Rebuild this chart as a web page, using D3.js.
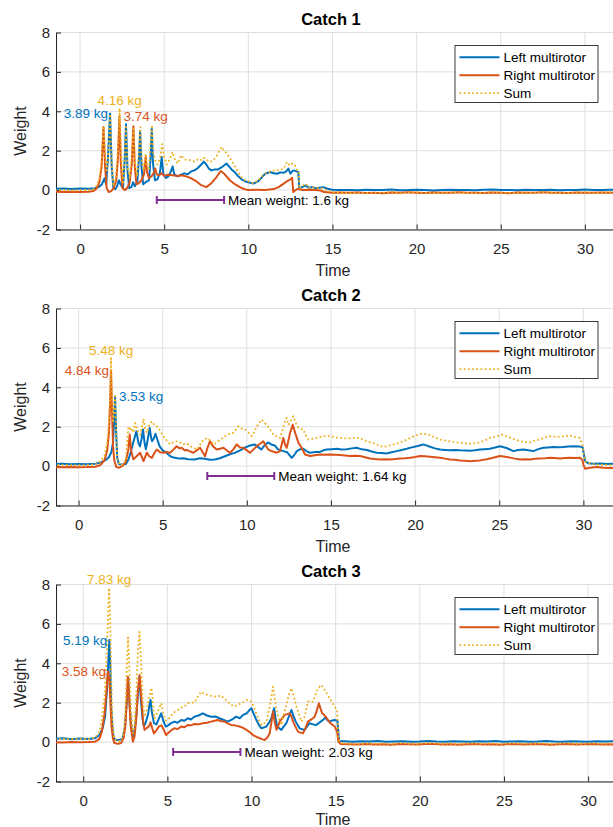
<!DOCTYPE html>
<html>
<head>
<meta charset="utf-8">
<script src="https://cdn.jsdelivr.net/npm/d3@7"></script>
<style>
    body { margin: 0; background: #fff; }
    svg { display: block; font-family: "Liberation Sans", Arial, sans-serif; }
</style>
</head>
<body>
<script>
// measured load per multirotor, [time, weight]
const catch1Left = [[-1.5,0.07],[-1,0.08],[-0.5,0.06],[0,0.08],[0.5,0.07],[0.9,0.1],[1.1,0.15],[1.3,0.3],[1.45,0.6],[1.55,0.3],[1.65,1.5],[1.78,3.89],[1.88,1.2],[1.98,0.1],[2.1,0.05],[2.2,0.2],[2.3,0.5],[2.4,0.3],[2.55,0.1],[2.65,1.5],[2.73,3.34],[2.82,1.0],[2.92,0.1],[3.05,0.15],[3.15,0.4],[3.25,0.2],[3.4,0.4],[3.5,1.6],[3.57,3.0],[3.65,1.2],[3.75,0.3],[3.9,0.4],[4.0,0.45],[4.1,0.5],[4.2,1.8],[4.26,3.12],[4.33,1.4],[4.45,0.5],[4.6,0.55],[4.75,0.9],[4.85,1.68],[4.95,0.8],[5.1,0.62],[5.25,0.7],[5.4,0.95],[5.5,1.2],[5.6,0.8],[5.8,0.7],[6.0,0.78],[6.2,0.85],[6.4,0.8],[6.6,0.95],[6.8,1.0],[7.0,1.12],[7.2,1.3],[7.35,1.45],[7.5,1.3],[7.65,1.1],[7.8,1.0],[8.0,1.05],[8.2,1.05],[8.4,1.15],[8.55,1.25],[8.7,1.35],[8.85,1.2],[9.0,1.05],[9.2,0.9],[9.4,0.7],[9.6,0.55],[9.8,0.45],[10.0,0.4],[10.3,0.33],[10.6,0.46],[10.8,0.65],[11.0,0.83],[11.3,0.92],[11.5,0.85],[11.7,0.83],[11.9,0.9],[12.1,0.88],[12.25,0.95],[12.38,1.09],[12.5,0.83],[12.6,0.95],[12.7,1.0],[12.85,0.95],[12.97,0.92],[13.03,0.07],[13.2,0.15],[13.4,0.24],[13.6,0.12],[13.8,0.15],[14.0,0.1],[14.2,0.12],[14.46,0.15],[14.7,0.07],[15.0,0.02],[15.3,0.0],[15.8,0.01],[16.0,0.01],[16.5,-0.01],[17.0,0.02],[17.5,0.0],[18.0,0.01],[18.5,0.03],[19.0,-0.01],[19.5,0.0],[20.0,0.02],[20.5,0.01],[21.0,-0.02],[21.5,0.01],[22.0,0.02],[22.5,0.0],[23.0,0.01],[23.5,-0.01],[24.0,0.02],[24.5,0.03],[25.0,0.0],[25.5,0.01],[26.0,-0.01],[26.5,0.02],[27.0,0.0],[27.5,0.01],[28.0,0.02],[28.5,-0.01],[29.0,0.01],[29.5,0.0],[30.0,0.03],[30.5,0.01],[31.0,0.0],[31.5,0.02],[31.8,0.01]];
const catch1Right = [[-1.5,-0.08],[-1,-0.1],[-0.5,-0.09],[0,-0.1],[0.5,-0.08],[0.8,-0.05],[1.0,0.1],[1.15,0.4],[1.28,1.2],[1.39,3.2],[1.48,1.3],[1.58,0.1],[1.7,-0.1],[1.85,-0.05],[2.0,0.1],[2.15,0.5],[2.25,1.6],[2.34,3.74],[2.42,1.4],[2.52,0.1],[2.65,0.0],[2.8,0.1],[2.95,0.4],[3.07,1.3],[3.17,3.24],[3.25,1.2],[3.35,0.3],[3.5,0.35],[3.65,0.5],[3.8,0.8],[3.9,1.68],[3.98,0.9],[4.1,0.6],[4.25,0.7],[4.4,0.9],[4.47,1.1],[4.55,0.8],[4.7,0.75],[4.85,0.85],[5.0,0.72],[5.2,0.78],[5.5,0.75],[5.8,0.72],[6.0,0.75],[6.3,0.7],[6.6,0.6],[6.9,0.45],[7.2,0.25],[7.5,0.15],[7.8,0.35],[8.1,0.65],[8.36,0.97],[8.6,0.8],[8.9,0.5],[9.2,0.3],[9.5,0.15],[9.7,0.07],[10.0,0.0],[10.5,0.02],[11.0,0.0],[11.5,0.05],[11.8,0.15],[12.1,0.33],[12.3,0.45],[12.48,0.53],[12.6,0.63],[12.67,-0.1],[12.8,0.0],[12.97,0.07],[13.2,0.0],[13.5,0.02],[14.0,0.0],[14.3,-0.02],[14.5,-0.1],[15.0,-0.13],[15.5,-0.12],[16.0,-0.14],[16.5,-0.12],[17.0,-0.15],[17.5,-0.13],[18.0,-0.16],[18.5,-0.12],[19.0,-0.14],[19.5,-0.11],[20.0,-0.13],[20.5,-0.15],[21.0,-0.12],[21.5,-0.14],[22.0,-0.13],[22.5,-0.11],[23.0,-0.14],[23.5,-0.13],[24.0,-0.15],[24.5,-0.12],[25.0,-0.13],[25.5,-0.16],[26.0,-0.12],[26.5,-0.14],[27.0,-0.13],[27.5,-0.11],[28.0,-0.14],[28.5,-0.13],[29.0,-0.15],[29.5,-0.12],[30.0,-0.13],[30.5,-0.14],[31.0,-0.12],[31.5,-0.13],[31.8,-0.14]];
const catch1Sum = [[-1.5,0.0],[-1,0.01],[-0.5,-0.02],[0,0.0],[0.5,0.01],[0.8,0.05],[1.0,0.25],[1.15,0.6],[1.28,1.5],[1.4,3.25],[1.5,1.6],[1.6,1.0],[1.7,2.2],[1.79,3.85],[1.88,1.3],[1.98,0.2],[2.12,0.6],[2.25,2.0],[2.35,4.16],[2.44,1.8],[2.55,0.3],[2.65,1.6],[2.73,3.3],[2.82,1.2],[2.95,0.6],[3.07,1.6],[3.17,3.2],[3.26,1.4],[3.38,0.7],[3.5,1.9],[3.58,3.2],[3.66,1.6],[3.78,1.0],[3.9,1.85],[3.98,1.2],[4.1,1.1],[4.2,2.4],[4.27,3.3],[4.35,1.9],[4.47,1.5],[4.6,1.3],[4.75,1.6],[4.88,2.33],[5.0,1.7],[5.15,1.3],[5.35,1.6],[5.5,1.93],[5.65,1.5],[5.8,1.35],[6.0,1.77],[6.2,1.55],[6.4,1.55],[6.6,1.5],[6.8,1.45],[7.0,1.55],[7.15,1.5],[7.35,1.65],[7.5,1.55],[7.7,1.42],[7.9,1.5],[8.1,1.7],[8.25,1.95],[8.4,2.19],[8.55,2.0],[8.7,1.9],[8.85,1.7],[9.0,1.5],[9.2,1.2],[9.4,0.9],[9.6,0.65],[9.8,0.5],[10.0,0.45],[10.3,0.35],[10.6,0.5],[10.8,0.7],[11.0,0.83],[11.3,0.95],[11.6,1.0],[11.9,1.02],[12.1,1.1],[12.3,1.43],[12.45,1.25],[12.6,1.34],[12.75,1.3],[12.9,1.0],[12.99,0.95],[13.04,0.07],[13.2,0.2],[13.4,0.33],[13.6,0.12],[13.8,0.15],[14.0,0.1],[14.3,0.1],[14.5,0.05],[14.8,-0.05],[15.1,-0.12],[15.5,-0.14],[16.0,-0.16],[16.5,-0.13],[17.0,-0.15],[17.5,-0.14],[18.0,-0.13],[18.5,-0.09],[19.0,-0.16],[19.5,-0.12],[20.0,-0.11],[20.5,-0.14],[21.0,-0.15],[21.5,-0.13],[22.0,-0.11],[22.5,-0.12],[23.0,-0.14],[23.5,-0.15],[24.0,-0.13],[24.5,-0.1],[25.0,-0.13],[25.5,-0.15],[26.0,-0.13],[26.5,-0.12],[27.0,-0.13],[27.5,-0.1],[28.0,-0.12],[28.5,-0.14],[29.0,-0.14],[29.5,-0.12],[30.0,-0.1],[30.5,-0.13],[31.0,-0.12],[31.5,-0.11],[31.8,-0.13]];

const catch2Left = [[-1.5,0.1],[-1,0.12],[-0.5,0.09],[0,0.11],[0.5,0.1],[1.0,0.12],[1.3,0.18],[1.6,0.3],[1.8,0.45],[1.95,0.7],[2.05,1.2],[2.12,2.5],[2.17,3.53],[2.23,1.8],[2.3,0.4],[2.4,0.1],[2.6,0.08],[2.8,0.1],[2.95,0.3],[3.1,0.7],[3.25,1.2],[3.44,1.77],[3.55,1.2],[3.65,1.0],[3.75,1.4],[3.83,1.86],[3.92,1.2],[4.0,0.85],[4.1,1.3],[4.23,1.94],[4.3,1.5],[4.37,1.26],[4.47,1.4],[4.57,1.64],[4.7,1.3],[4.82,1.0],[5.0,0.8],[5.22,0.68],[5.45,0.5],[5.71,0.42],[6.0,0.38],[6.25,0.4],[6.5,0.35],[6.9,0.34],[7.2,0.4],[7.5,0.37],[7.8,0.32],[8.09,0.34],[8.4,0.4],[8.7,0.5],[9.0,0.6],[9.28,0.67],[9.6,0.8],[9.87,0.93],[10.2,1.05],[10.46,1.1],[10.7,0.95],[10.86,0.84],[11.05,1.05],[11.26,1.2],[11.45,1.1],[11.66,1.05],[11.85,0.85],[12.17,0.76],[12.4,0.7],[12.67,0.42],[12.85,0.6],[12.97,0.76],[13.16,0.85],[13.36,0.88],[13.56,0.75],[13.76,0.68],[14.05,0.72],[14.35,0.72],[14.55,0.8],[14.75,0.84],[15.05,0.86],[15.34,0.88],[15.64,0.84],[15.94,0.86],[16.23,0.9],[16.53,0.93],[16.83,0.85],[17.13,0.82],[17.42,0.74],[17.72,0.68],[18.02,0.66],[18.31,0.64],[18.61,0.7],[18.9,0.76],[19.2,0.82],[19.5,0.88],[19.8,0.95],[20.1,1.01],[20.49,1.1],[20.89,0.98],[21.18,0.9],[21.48,0.84],[21.78,0.82],[22.07,0.8],[22.37,0.82],[22.67,0.8],[22.96,0.79],[23.26,0.78],[23.56,0.8],[23.86,0.84],[24.15,0.86],[24.45,0.88],[24.75,0.94],[25.04,1.01],[25.44,0.92],[25.84,0.76],[26.13,0.82],[26.43,0.84],[26.73,0.8],[27.03,0.76],[27.32,0.86],[27.62,0.93],[27.92,0.95],[28.21,0.97],[28.51,0.96],[28.81,0.97],[29.1,0.99],[29.4,1.01],[29.8,0.99],[29.96,0.95],[30.05,0.5],[30.1,0.25],[30.3,0.14],[30.6,0.12],[31.0,0.13],[31.4,0.11],[31.8,0.12]];
const catch2Right = [[-1.5,-0.05],[-1,-0.06],[-0.5,-0.04],[0,-0.06],[0.5,-0.05],[1.0,-0.03],[1.3,0.05],[1.55,0.3],[1.7,0.8],[1.8,1.6],[1.87,3.0],[1.93,4.84],[1.99,2.8],[2.05,1.0],[2.12,0.3],[2.25,-0.05],[2.4,-0.08],[2.6,0.0],[2.8,0.2],[2.95,0.8],[3.04,1.6],[3.12,0.8],[3.26,0.34],[3.45,0.5],[3.66,0.68],[3.86,0.25],[4.06,0.68],[4.2,0.5],[4.36,0.42],[4.5,0.65],[4.65,0.84],[4.85,0.7],[5.04,0.68],[5.25,0.72],[5.44,0.68],[5.65,0.85],[5.83,1.01],[6.0,0.9],[6.13,0.93],[6.3,0.8],[6.43,0.82],[6.62,0.75],[6.82,0.68],[7.02,0.8],[7.22,0.93],[7.38,0.7],[7.52,0.5],[7.65,0.9],[7.81,1.26],[8.0,1.0],[8.21,0.84],[8.4,0.88],[8.61,0.93],[8.8,0.8],[9.0,0.68],[9.2,0.85],[9.4,1.1],[9.6,0.95],[9.8,0.93],[10.0,0.8],[10.19,0.68],[10.4,0.85],[10.59,1.01],[10.8,1.15],[10.98,1.26],[11.15,1.0],[11.28,0.84],[11.5,0.75],[11.78,0.68],[11.97,0.76],[12.17,1.43],[12.27,1.1],[12.37,0.93],[12.5,1.4],[12.57,1.69],[12.73,2.1],[12.87,1.69],[13.07,1.18],[13.26,0.93],[13.46,0.59],[13.76,0.51],[14.05,0.55],[14.35,0.59],[14.65,0.57],[14.94,0.59],[15.24,0.58],[15.54,0.56],[15.83,0.54],[16.13,0.51],[16.43,0.52],[16.73,0.51],[17.02,0.45],[17.32,0.39],[17.62,0.36],[17.91,0.34],[18.21,0.35],[18.51,0.34],[18.8,0.36],[19.1,0.39],[19.4,0.4],[19.7,0.42],[20.0,0.46],[20.29,0.51],[20.59,0.5],[20.89,0.48],[21.18,0.45],[21.48,0.42],[21.78,0.38],[22.07,0.34],[22.37,0.32],[22.67,0.29],[22.96,0.27],[23.26,0.25],[23.56,0.27],[23.86,0.29],[24.15,0.33],[24.45,0.39],[24.75,0.45],[25.04,0.51],[25.34,0.47],[25.64,0.43],[25.94,0.38],[26.24,0.34],[26.53,0.35],[26.83,0.34],[27.13,0.37],[27.42,0.39],[27.72,0.4],[28.02,0.42],[28.31,0.41],[28.61,0.39],[28.9,0.41],[29.2,0.42],[29.5,0.41],[29.8,0.42],[29.95,0.3],[30.0,0.08],[30.1,-0.13],[30.4,-0.08],[30.8,-0.05],[31.2,-0.08],[31.6,-0.1],[31.8,-0.09]];
const catch2Sum = [[-1.5,0.05],[-1,0.06],[-0.5,0.05],[0,0.05],[0.5,0.05],[1.0,0.09],[1.3,0.23],[1.55,0.55],[1.7,1.2],[1.8,2.1],[1.87,3.6],[1.93,5.48],[1.99,3.5],[2.05,2.2],[2.12,2.8],[2.17,3.55],[2.23,1.9],[2.3,0.4],[2.45,0.05],[2.6,0.08],[2.8,0.3],[2.96,2.02],[3.06,1.8],[3.16,1.94],[3.26,1.7],[3.36,2.19],[3.5,1.8],[3.66,1.6],[3.76,2.0],[3.86,2.4],[3.96,1.9],[4.06,1.69],[4.2,2.1],[4.36,2.27],[4.5,2.1],[4.65,2.02],[4.85,1.8],[5.04,1.52],[5.24,1.3],[5.44,1.1],[5.63,1.2],[5.83,1.26],[6.03,1.2],[6.23,1.1],[6.43,1.15],[6.63,1.01],[6.82,0.95],[7.02,0.84],[7.17,1.0],[7.32,1.26],[7.47,1.3],[7.62,1.43],[7.82,1.3],[8.02,1.1],[8.22,1.2],[8.42,1.35],[8.62,1.45],[8.81,1.6],[9.01,1.65],[9.21,1.69],[9.35,1.85],[9.5,2.02],[9.7,1.9],[9.9,1.85],[10.1,1.7],[10.3,1.52],[10.45,1.75],[10.59,2.02],[10.75,2.2],[10.89,2.36],[11.04,2.2],[11.18,2.1],[11.38,1.85],[11.58,1.6],[11.78,1.5],[11.98,1.43],[12.17,2.0],[12.27,2.28],[12.37,2.45],[12.47,2.1],[12.57,2.2],[12.67,2.4],[12.77,2.53],[12.9,2.2],[13.06,1.95],[13.21,1.88],[13.36,1.85],[13.51,1.55],[13.66,1.35],[13.86,1.38],[14.15,1.43],[14.45,1.5],[14.75,1.55],[15.05,1.5],[15.34,1.45],[15.64,1.42],[15.94,1.4],[16.23,1.42],[16.53,1.44],[16.83,1.38],[17.13,1.26],[17.42,1.18],[17.72,1.1],[17.92,1.02],[18.12,0.97],[18.42,1.03],[18.71,1.1],[19.01,1.18],[19.31,1.26],[19.6,1.38],[19.9,1.51],[20.15,1.58],[20.39,1.64],[20.64,1.62],[20.89,1.57],[21.18,1.45],[21.48,1.35],[21.78,1.3],[22.07,1.26],[22.37,1.22],[22.67,1.18],[22.96,1.16],[23.26,1.14],[23.56,1.16],[23.86,1.2],[24.15,1.3],[24.45,1.43],[24.8,1.5],[25.14,1.6],[25.39,1.52],[25.64,1.45],[25.94,1.35],[26.24,1.26],[26.53,1.22],[26.83,1.2],[27.13,1.3],[27.42,1.35],[27.72,1.45],[28.02,1.52],[28.31,1.5],[28.61,1.48],[28.9,1.52],[29.2,1.55],[29.5,1.48],[29.8,1.42],[29.96,1.0],[30.05,0.5],[30.1,0.25],[30.4,0.13],[30.8,0.08],[31.2,0.06],[31.8,0.05]];

const catch3Left = [[-1.7,0.17],[-1.2,0.19],[-0.7,0.15],[-0.2,0.18],[0.3,0.16],[0.7,0.2],[0.95,0.35],[1.15,0.7],[1.3,1.3],[1.42,2.8],[1.5,4.3],[1.55,5.19],[1.6,4.0],[1.66,1.8],[1.75,0.5],[1.85,0.15],[2.0,0.1],[2.2,0.12],[2.35,0.2],[2.48,0.8],[2.58,2.0],[2.67,3.27],[2.75,2.0],[2.85,0.8],[2.95,0.3],[3.05,0.6],[3.15,1.3],[3.25,2.5],[3.33,3.3],[3.42,2.2],[3.52,1.2],[3.6,0.8],[3.7,0.96],[3.85,1.4],[3.95,2.0],[4.0,2.14],[4.08,1.5],[4.2,0.96],[4.35,0.9],[4.5,1.2],[4.63,1.46],[4.75,1.1],[4.9,0.79],[5.05,0.85],[5.2,0.95],[5.42,1.04],[5.6,0.98],[5.82,1.12],[6.0,1.08],[6.21,1.21],[6.4,1.15],[6.6,1.29],[6.85,1.35],[7.1,1.46],[7.35,1.35],[7.6,1.29],[7.85,1.3],[8.09,1.21],[8.35,1.12],[8.58,1.04],[8.85,1.15],[9.08,1.29],[9.3,1.21],[9.5,1.38],[9.7,1.45],[9.85,1.6],[9.99,1.72],[10.15,1.4],[10.29,1.12],[10.45,0.85],[10.59,0.7],[10.75,0.75],[10.88,0.79],[11.05,1.0],[11.18,1.21],[11.34,1.72],[11.43,1.2],[11.52,0.79],[11.65,0.7],[11.77,0.62],[11.92,0.8],[12.07,0.96],[12.22,1.3],[12.37,1.63],[12.5,1.3],[12.63,1.04],[12.75,0.85],[12.86,0.7],[13.0,0.65],[13.16,0.62],[13.3,0.8],[13.45,0.96],[13.65,0.9],[13.85,0.87],[14.05,1.0],[14.24,1.12],[14.4,1.25],[14.52,1.1],[14.64,1.04],[14.8,1.1],[14.94,1.12],[15.1,1.08],[15.15,0.6],[15.2,0.05],[15.5,0.04],[16.0,0.02],[16.5,0.04],[17.0,0.03],[17.5,0.05],[18.0,0.02],[18.5,0.03],[19.0,0.04],[19.5,0.02],[20.0,0.03],[20.5,0.05],[21.0,0.03],[21.5,0.02],[22.0,0.04],[22.5,0.03],[23.0,0.02],[23.5,0.04],[24.0,0.03],[24.5,0.05],[25.0,0.02],[25.5,0.03],[26.0,0.04],[26.5,0.02],[27.0,0.03],[27.5,0.05],[28.0,0.03],[28.5,0.02],[29.0,0.04],[29.5,0.03],[30.0,0.02],[30.5,0.04],[31.0,0.03],[31.5,0.05]];
const catch3Right = [[-1.7,0.0],[-1.2,-0.02],[-0.7,0.01],[-0.2,-0.01],[0.3,0.0],[0.7,0.02],[0.95,0.15],[1.1,0.5],[1.27,1.46],[1.38,2.6],[1.47,3.58],[1.55,3.2],[1.62,1.9],[1.68,0.8],[1.76,0.2],[1.85,-0.05],[2.06,-0.09],[2.25,-0.05],[2.4,0.2],[2.5,0.8],[2.58,2.0],[2.65,3.32],[2.72,2.4],[2.82,0.8],[2.95,0.02],[3.05,0.3],[3.15,1.2],[3.25,2.6],[3.35,3.4],[3.45,2.3],[3.55,1.1],[3.64,0.62],[3.75,0.7],[3.9,0.8],[4.0,1.0],[4.1,0.7],[4.2,0.44],[4.35,0.6],[4.5,0.8],[4.65,0.85],[4.8,0.6],[4.92,0.36],[5.1,0.5],[5.25,0.62],[5.42,0.7],[5.6,0.66],[5.82,0.79],[6.0,0.75],[6.21,0.87],[6.4,0.85],[6.6,0.92],[6.85,0.9],[7.1,0.96],[7.35,0.98],[7.6,1.04],[7.8,1.08],[8.0,1.12],[8.2,1.06],[8.38,1.05],[8.58,0.95],[8.78,0.87],[9.0,0.85],[9.28,0.79],[9.5,0.72],[9.7,0.62],[9.9,0.5],[10.09,0.36],[10.3,0.26],[10.49,0.2],[10.65,0.14],[10.78,0.11],[10.95,0.25],[11.08,0.45],[11.18,1.0],[11.28,1.55],[11.38,1.0],[11.48,0.62],[11.58,0.8],[11.67,1.04],[11.82,1.2],[11.97,1.38],[12.12,1.42],[12.27,1.46],[12.37,1.3],[12.47,1.04],[12.6,0.8],[12.76,0.53],[12.9,0.48],[13.06,0.45],[13.2,0.7],[13.35,1.04],[13.55,1.15],[13.75,1.29],[13.88,1.6],[14.0,1.97],[14.1,1.7],[14.2,1.46],[14.3,1.4],[14.4,1.29],[14.52,1.15],[14.64,1.0],[14.8,0.88],[14.94,0.79],[15.05,0.6],[15.1,0.45],[15.16,0.03],[15.3,-0.1],[15.8,-0.11],[16.3,-0.12],[16.8,-0.1],[17.3,-0.12],[17.8,-0.11],[18.3,-0.13],[18.8,-0.1],[19.3,-0.11],[19.8,-0.12],[20.3,-0.1],[20.8,-0.09],[21.3,-0.12],[21.8,-0.11],[22.3,-0.13],[22.8,-0.11],[23.3,-0.1],[23.8,-0.12],[24.3,-0.11],[24.8,-0.13],[25.3,-0.1],[25.8,-0.11],[26.3,-0.12],[26.8,-0.1],[27.3,-0.11],[27.8,-0.13],[28.3,-0.11],[28.8,-0.1],[29.3,-0.12],[29.8,-0.11],[30.3,-0.1],[30.8,-0.12],[31.3,-0.11],[31.6,-0.12]];
const catch3Sum = [[-1.7,0.17],[-1.2,0.16],[-0.7,0.15],[-0.2,0.18],[0.3,0.15],[0.7,0.22],[0.95,0.5],[1.12,1.2],[1.27,2.4],[1.38,4.2],[1.47,6.4],[1.54,7.83],[1.6,6.2],[1.66,3.3],[1.74,1.0],[1.85,0.15],[2.06,0.02],[2.25,0.08],[2.4,0.4],[2.5,1.5],[2.58,3.6],[2.66,5.3],[2.74,3.8],[2.84,1.5],[2.95,0.45],[3.05,0.9],[3.15,2.5],[3.25,4.6],[3.34,5.6],[3.43,4.2],[3.53,2.2],[3.64,1.29],[3.75,1.5],[3.9,2.2],[4.05,2.76],[4.15,1.9],[4.22,1.21],[4.35,1.4],[4.5,1.7],[4.63,1.97],[4.75,1.5],[4.9,1.1],[5.03,1.12],[5.18,1.3],[5.32,1.46],[5.47,1.55],[5.62,1.63],[5.77,1.72],[5.92,1.8],[6.06,1.85],[6.21,1.97],[6.4,2.0],[6.6,2.0],[6.8,2.3],[7.0,2.56],[7.2,2.45],[7.4,2.39],[7.6,2.35],[7.8,2.31],[8.0,2.33],[8.19,2.36],[8.4,2.2],[8.58,2.05],[8.78,1.9],[8.98,1.8],[9.18,1.9],[9.38,1.97],[9.55,2.05],[9.7,2.14],[9.85,2.1],[9.99,2.05],[10.15,1.75],[10.29,1.46],[10.45,1.1],[10.59,0.87],[10.75,0.95],[10.88,1.04],[11.0,1.5],[11.12,1.97],[11.28,2.81],[11.38,2.2],[11.48,1.63],[11.62,1.2],[11.77,0.87],[11.92,1.4],[12.07,1.88],[12.22,2.4],[12.37,2.73],[12.52,2.3],[12.67,1.8],[12.82,1.4],[12.96,1.04],[13.16,1.29],[13.35,2.05],[13.5,2.1],[13.65,2.05],[13.8,2.4],[13.95,2.73],[14.15,2.9],[14.28,2.75],[14.4,2.56],[14.52,2.4],[14.64,2.22],[14.8,2.0],[14.94,1.8],[15.08,1.63],[15.16,0.2],[15.3,-0.05],[15.8,-0.07],[16.3,-0.09],[16.8,-0.06],[17.3,-0.08],[17.8,-0.07],[18.3,-0.09],[18.8,-0.05],[19.3,-0.07],[19.8,-0.08],[20.3,-0.06],[20.8,-0.05],[21.3,-0.08],[21.8,-0.07],[22.3,-0.09],[22.8,-0.06],[23.3,-0.07],[23.8,-0.08],[24.3,-0.06],[24.8,-0.09],[25.3,-0.07],[25.8,-0.06],[26.3,-0.08],[26.8,-0.07],[27.3,-0.06],[27.8,-0.09],[28.3,-0.07],[28.8,-0.06],[29.3,-0.08],[29.8,-0.07],[30.3,-0.06],[30.8,-0.08],[31.3,-0.07],[31.6,-0.08]];

const catchTitles = ["Catch 1", "Catch 2", "Catch 3"];
const seriesNames = ["Left multirotor", "Right multirotor", "Sum"];
const xLimits = [[-1.43, 31.67], [-1.34, 31.76], [-1.62, 31.48]];
const yLimits = [-2, 8];
const xTicks = [0, 5, 10, 15, 20, 25, 30];
const yTicks = [-2, 0, 2, 4, 6, 8];

// holding interval used for the mean weight, [start, end] in seconds
const meanIntervals = [[4.56, 8.56], [7.65, 11.63], [5.34, 9.34]];
const meanWeights = [1.6, 1.64, 2.03];
const meanBarLevel = -0.5;

// how each peak label sits against its peak (left, right, sum)
const peakAnchors = [["end", "start", "middle"], ["start", "end", "middle"], ["end", "end", "middle"]];

(function () {
    const colors = ["#0072BD", "#D95319", "#EDB120"];
    const purple = "#7E2F8E";
    const axisColor = "#262626";

    const width = 613, height = 827;
    const left = 56, right = 613;
    const panelTop = 32.5, panelHeight = 197, panelStep = 276;

    const svg = d3.select("body").append("svg")
        .attr("width", width)
        .attr("height", height);

    const catches = [
        [catch1Left, catch1Right, catch1Sum],
        [catch2Left, catch2Right, catch2Sum],
        [catch3Left, catch3Right, catch3Sum]
    ];

    catches.forEach(function (series, i) {
        drawPanel(series, i);
    });

    function drawPanel(series, i) {
        const top = panelTop + i * panelStep;
        const bottom = top + panelHeight;

        const x = d3.scaleLinear().domain(xLimits[i]).range([left, right]);
        const y = d3.scaleLinear().domain(yLimits).range([bottom, top]);

        const g = svg.append("g").attr("class", "panel");

        // grid
        g.selectAll(".gridX").data(xTicks).enter().append("line")
            .attr("x1", d => x(d)).attr("x2", d => x(d))
            .attr("y1", top).attr("y2", bottom)
            .attr("stroke", "#dfdfdf").attr("stroke-width", 1);
        g.selectAll(".gridY").data(yTicks).enter().append("line")
            .attr("x1", left).attr("x2", right)
            .attr("y1", d => y(d)).attr("y2", d => y(d))
            .attr("stroke", "#dfdfdf").attr("stroke-width", 1);

        // axes, ticks pointing inward
        const xAxis = g.append("g")
            .attr("transform", "translate(0," + bottom + ")")
            .call(d3.axisBottom(x).tickValues(xTicks).tickSize(-5).tickSizeOuter(0)
                .tickPadding(13.5).tickFormat(d => String(d)));
        const yAxis = g.append("g")
            .attr("transform", "translate(" + left + ",0)")
            .call(d3.axisLeft(y).tickValues(yTicks).tickSize(-5).tickSizeOuter(0)
                .tickPadding(6).tickFormat(d => String(d)));
        [xAxis, yAxis].forEach(function (a) {
            a.select(".domain").attr("stroke", axisColor);
            a.selectAll(".tick line").attr("stroke", axisColor);
            a.selectAll(".tick text")
                .attr("fill", axisColor)
                .style("font-size", "15px")
                .style("font-family", "'Liberation Sans', Arial, sans-serif");
        });

        // data lines
        const clipId = "clip" + i;
        g.append("clipPath").attr("id", clipId)
            .append("rect")
            .attr("x", left).attr("y", top)
            .attr("width", right - left).attr("height", panelHeight);

        const line = d3.line()
            .x(d => x(d[0]))
            .y(d => y(d[1]));

        const lines = g.append("g").attr("clip-path", "url(#" + clipId + ")");
        series.forEach(function (s, k) {
            lines.append("path")
                .datum(s)
                .attr("d", line)
                .attr("fill", "none")
                .attr("stroke", colors[k])
                .attr("stroke-width", k === 2 ? 1.8 : 2)
                .attr("stroke-linejoin", "round")
                .attr("stroke-dasharray", k === 2 ? "1.8,2.4" : null);
        });

        // peak labels
        series.forEach(function (s, k) {
            const peak = d3.greatest(s, d => d[1]);
            const anchor = peakAnchors[i][k];
            const px = x(peak[0]), py = y(peak[1]);
            const label = g.append("text")
                .attr("fill", colors[k])
                .style("font-size", "13.5px")
                .attr("text-anchor", anchor)
                .text(peak[1].toFixed(2) + " kg");
            if (anchor === "middle") {
                label.attr("x", px).attr("y", py - 3.5);
            } else {
                label.attr("x", anchor === "end" ? px - 2 : px + 4)
                    .attr("y", py)
                    .attr("dy", "0.35em");
            }
        });

        // mean weight interval
        const mx0 = x(meanIntervals[i][0]), mx1 = x(meanIntervals[i][1]);
        const my = y(meanBarLevel);
        const bar = g.append("g")
            .attr("stroke", purple)
            .attr("stroke-width", 2);
        bar.append("line").attr("x1", mx0).attr("x2", mx1).attr("y1", my).attr("y2", my);
        bar.append("line").attr("x1", mx0).attr("x2", mx0).attr("y1", my - 4).attr("y2", my + 4);
        bar.append("line").attr("x1", mx1).attr("x2", mx1).attr("y1", my - 4).attr("y2", my + 4);
        g.append("text")
            .attr("x", mx1 + 4)
            .attr("y", my)
            .attr("dy", "0.35em")
            .attr("fill", "#000")
            .style("font-size", "13.5px")
            .text("Mean weight: " + meanWeights[i] + " kg");

        // legend
        const lx = 455, ly = top + 13;
        const legend = g.append("g");
        legend.append("rect")
            .attr("x", lx).attr("y", ly)
            .attr("width", 143).attr("height", 57)
            .attr("fill", "#fff")
            .attr("stroke", axisColor)
            .attr("stroke-width", 0.9);
        seriesNames.forEach(function (name, k) {
            const ry = ly + 11.7 + k * 18;
            legend.append("line")
                .attr("x1", lx + 4.5).attr("x2", lx + 44.5)
                .attr("y1", ry).attr("y2", ry)
                .attr("stroke", colors[k])
                .attr("stroke-width", k === 2 ? 1.8 : 2)
                .attr("stroke-dasharray", k === 2 ? "1.8,2.4" : null);
            legend.append("text")
                .attr("x", lx + 48.5).attr("y", ry)
                .attr("dy", "0.35em")
                .style("font-size", "13.5px")
                .attr("fill", "#000")
                .text(name);
        });

        // titles and axis labels (last x label kept inside the page)
        g.append("text")
            .attr("x", 331).attr("y", top - 7.5)
            .attr("text-anchor", "middle")
            .style("font-size", "16.5px")
            .style("font-weight", "bold")
            .attr("fill", "#000")
            .text(catchTitles[i]);
        g.append("text")
            .attr("x", 333).attr("y", Math.min(bottom + 46, height - 2))
            .attr("text-anchor", "middle")
            .style("font-size", "16px")
            .attr("fill", axisColor)
            .text("Time");
        g.append("text")
            .attr("transform", "translate(25.5," + (top + panelHeight / 2) + ") rotate(-90)")
            .attr("text-anchor", "middle")
            .style("font-size", "16px")
            .attr("fill", axisColor)
            .text("Weight");
    }
})();
</script>
</body>
</html>
